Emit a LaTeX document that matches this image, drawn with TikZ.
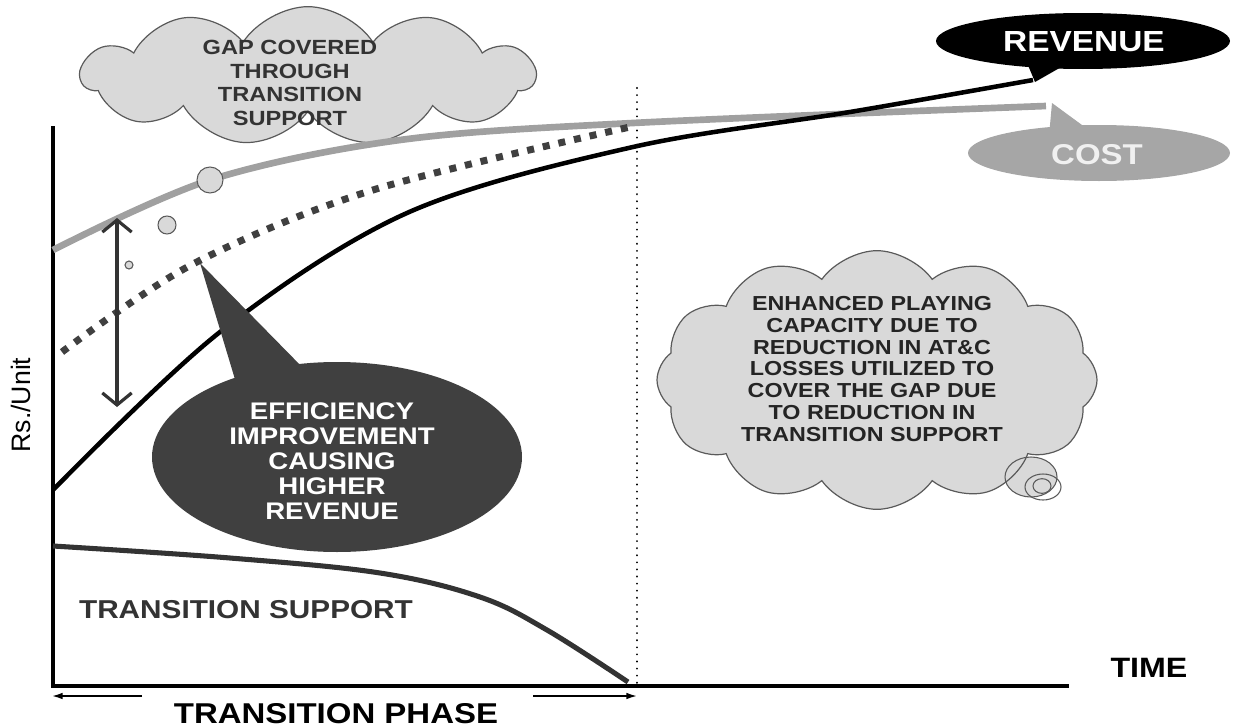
\documentclass[tikz,border=0pt]{standalone}
\usepackage{fontspec}
\setmainfont{Liberation Sans}
\newfontfamily\widesans[FakeStretch=1.15]{Liberation Sans}
\usetikzlibrary{shapes.geometric,shapes.symbols,arrows.meta}

\definecolor{cloudfill}{HTML}{D9D9D9}
\definecolor{cloudline}{HTML}{5A5A5A}
\definecolor{costgray}{HTML}{A0A0A0}
\definecolor{dotgray}{HTML}{404040}
\definecolor{darkbal}{HTML}{404040}
\definecolor{costbal}{HTML}{A6A6A6}
\definecolor{txtgray}{HTML}{333333}

\tikzset{
  axisline/.style={line width=3pt, black, line cap=rect},
  cloudbox/.style={cloud, cloud ignores aspect, fill=cloudfill, draw=cloudline, line width=0.9pt, inner sep=0pt},
  bubble/.style={circle, fill=cloudfill, draw=cloudline, line width=0.8pt, inner sep=0pt},
  thoughtring/.style={ellipse, draw=cloudline, line width=0.8pt, inner sep=0pt},
  balloon/.style={ellipse, inner sep=0pt},
  bigtxt/.style={font=\widesans\bfseries, inner sep=0pt, align=center},
  phasearrow/.style={line width=1.2pt, -{Latex[length=8pt,width=5pt]}}
}

\begin{document}
\begin{tikzpicture}[x=0.75pt, y=-0.75pt]
\useasboundingbox (0,0) rectangle (1233,728);

% cloud: gap covered through transition support
\node[cloudbox, cloud puffs=11, cloud puff arc=115, minimum width=340pt, minimum height=104pt] (gapcloud) at (308,76) {};
\node[bigtxt, text=txtgray, font=\widesans\bfseries\fontsize{15.4pt}{17.6pt}\selectfont] (gaptext) at (290,83)
  {GAP COVERED\\THROUGH\\TRANSITION\\SUPPORT};

% axes and the end of the transition phase
\coordinate (ytop) at (53,128);
\coordinate (orig) at (53,686);
\coordinate (xend) at (1067,686);
\draw[axisline] (ytop) -- (orig) -- (xend);
\coordinate (phtop) at (637,88);
\coordinate (phbot) at (637,683);
\draw[line width=1.6pt, line cap=round, dash pattern=on 0.01pt off 5.3pt] (phtop) -- (phbot);

% cost curve
\draw[costgray, line width=5pt] plot[smooth, tension=0.55] coordinates
  {(53,250) (210,180) (400,140) (633,123) (1046,106)};

% cost with efficiency improvement (dotted)
\draw[dotgray, line width=5.25pt, dash pattern=on 5.25pt off 6.75pt] plot[smooth, tension=0.55] coordinates
  {(62,352) (193,264) (373,190) (630,127)};

% revenue curve
\draw[black, line width=3.4pt] plot[smooth, tension=0.55] coordinates
  {(53,490) (220,332) (407,213) (633,147) (850,112) (1033,80)};

% transition support curve
\draw[txtgray, line width=3.8pt] plot[smooth, tension=0.6] coordinates
  {(53,546) (230,558) (380,573) (480,597) (547,630) (628,682)};

% bubbles along the cost curve
\node[bubble, minimum size=19.5pt] (bub1) at (210,180) {};
\node[bubble, minimum size=13.5pt] (bub2) at (167,225) {};
\node[bubble, minimum size=6pt] (bub3) at (129,265) {};

% gap arrow
\coordinate (gaptop) at (117,218);
\coordinate (gapbot) at (117,407);
\draw[txtgray, line width=2.4pt, {Straight Barb[length=9pt,width=22pt]}-{Straight Barb[length=9pt,width=22pt]}] (gaptop) -- (gapbot);

% efficiency improvement balloon
\fill[darkbal] (200,263) -- (237,386) -- (307,372) -- cycle;
\node[balloon, fill=darkbal, minimum width=277.5pt, minimum height=142.5pt] (effbal) at (337,457) {};
\node[bigtxt, text=white, font=\widesans\bfseries\fontsize{18pt}{18.75pt}\selectfont] (efftext) at (332,461)
  {EFFICIENCY\\IMPROVEMENT\\CAUSING\\HIGHER\\REVENUE};

% revenue balloon
\fill[black] (1025,58) -- (1035,82) -- (1077,58) -- cycle;
\node[balloon, fill=black, minimum width=220.5pt, minimum height=42pt] (revbal) at (1083,41) {};
\node[bigtxt, text=white, font=\widesans\bfseries\fontsize{21.8pt}{24pt}\selectfont] (revtext) at (1084,42) {REVENUE};

% cost balloon
\fill[costbal] (1049,136) -- (1052,103) -- (1097,136) -- cycle;
\node[balloon, fill=costbal, minimum width=196.5pt, minimum height=42pt] (costbl) at (1099,153) {};
\node[bigtxt, text=white!94!black, font=\widesans\bfseries\fontsize{21.5pt}{24pt}\selectfont] (costtext) at (1097,155) {COST};

% thought cloud: enhanced paying capacity
\node[thoughtring, fill=cloudfill, draw=none, minimum width=39pt, minimum height=30pt] (ring1f) at (1031,477) {};
\node[cloudbox, cloud puffs=12, cloud puff arc=110, minimum width=330pt, minimum height=194pt] (capcloud) at (877,380) {};
\node[thoughtring, minimum width=39pt, minimum height=30pt] (ring1) at (1031,477) {};
\node[thoughtring, minimum width=27pt, minimum height=19.5pt] (ring2) at (1043,487) {};
\node[thoughtring, minimum width=13.5pt, minimum height=11pt] (ring3) at (1042,486) {};
\node[bigtxt, text=txtgray!70!black, font=\widesans\bfseries\fontsize{15.2pt}{16.3pt}\selectfont] (captext) at (872,369)
  {ENHANCED PLAYING\\CAPACITY DUE TO\\REDUCTION IN AT\&C\\LOSSES UTILIZED TO\\COVER THE GAP DUE\\TO REDUCTION IN\\TRANSITION SUPPORT};

% axis labels
\node[font=\fontsize{20pt}{22pt}\selectfont, rotate=90, inner sep=0pt] (ylabel) at (21,405) {Rs./Unit};
\node[bigtxt, font=\widesans\bfseries\fontsize{21pt}{24pt}\selectfont] (xlabel) at (1149,668) {TIME};
\node[bigtxt, text=txtgray, font=\widesans\bfseries\fontsize{19.4pt}{22pt}\selectfont] (tstext) at (246,610) {TRANSITION SUPPORT};

% transition phase span
\coordinate (phl0) at (142,696);
\coordinate (phl1) at (52,696);
\coordinate (phr0) at (533,696);
\coordinate (phr1) at (637,696);
\draw[phasearrow] (phl0) -- (phl1);
\draw[phasearrow] (phr0) -- (phr1);
\node[bigtxt, font=\widesans\bfseries\fontsize{21.5pt}{24pt}\selectfont] (phasetext) at (336,714) {TRANSITION PHASE};
\end{tikzpicture}
\end{document}
